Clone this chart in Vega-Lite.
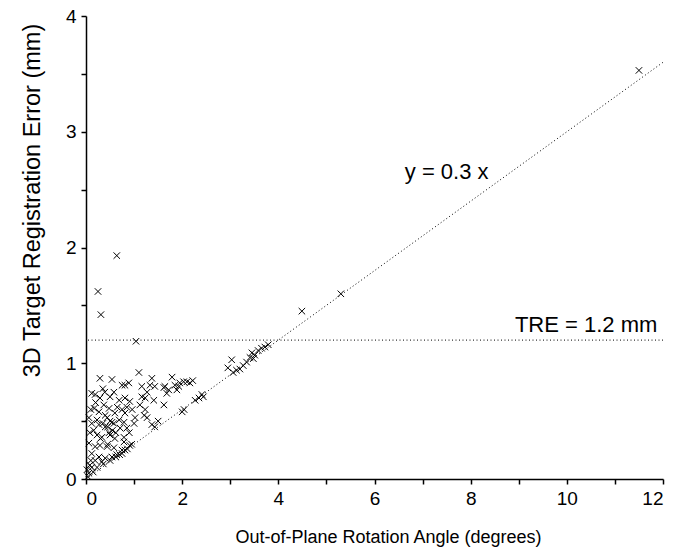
{
  "$schema": "https://vega.github.io/schema/vega-lite/v6.json",
  "autosize": "none",
  "padding": {"left": 86, "top": 16, "right": 27, "bottom": 72},
  "width": 577,
  "height": 463,
  "background": "white",
  "config": {
    "view": {"stroke": null},
    "font": "Liberation Sans",
    "axis": {
      "domainColor": "black", "domainWidth": 1.5, "tickColor": "black", "tickWidth": 1.5, "tickSize": 5,
      "labelColor": "black", "labelFontSize": 19, "titleFontWeight": "normal", "titleColor": "black", "grid": false
    }
  },
  "datasets": {
    "pts": [
      {"angle": 11.5, "tre": 3.53}, {"angle": 5.3, "tre": 1.6}, {"angle": 4.49, "tre": 1.45},
      {"angle": 0.64, "tre": 1.93}, {"angle": 0.25, "tre": 1.62}, {"angle": 0.31, "tre": 1.42}, {"angle": 1.04, "tre": 1.19},
      {"angle": 3.03, "tre": 1.03}, {"angle": 2.95, "tre": 0.96}, {"angle": 3.06, "tre": 0.92}, {"angle": 3.13, "tre": 0.94},
      {"angle": 3.2, "tre": 0.95}, {"angle": 3.27, "tre": 0.98}, {"angle": 3.34, "tre": 1.01}, {"angle": 3.41, "tre": 1.05},
      {"angle": 3.45, "tre": 1.09}, {"angle": 3.51, "tre": 1.07}, {"angle": 3.58, "tre": 1.11}, {"angle": 3.65, "tre": 1.13},
      {"angle": 3.72, "tre": 1.14}, {"angle": 3.79, "tre": 1.16}, {"angle": 3.48, "tre": 1.04}, {"angle": 2.44, "tre": 0.71},
      {"angle": 1.79, "tre": 0.88}, {"angle": 1.64, "tre": 0.8}, {"angle": 1.72, "tre": 0.77}, {"angle": 1.68, "tre": 0.74},
      {"angle": 1.85, "tre": 0.81}, {"angle": 1.95, "tre": 0.83}, {"angle": 2.03, "tre": 0.84}, {"angle": 2.1, "tre": 0.84},
      {"angle": 2.16, "tre": 0.83}, {"angle": 1.93, "tre": 0.8}, {"angle": 1.89, "tre": 0.77}, {"angle": 2.27, "tre": 0.68},
      {"angle": 2.35, "tre": 0.7}, {"angle": 2.41, "tre": 0.73}, {"angle": 2.04, "tre": 0.6}, {"angle": 2.0, "tre": 0.58},
      {"angle": 1.62, "tre": 0.64}, {"angle": 2.22, "tre": 0.85},
      {"angle": 1.1, "tre": 0.92}, {"angle": 1.37, "tre": 0.87}, {"angle": 1.43, "tre": 0.8}, {"angle": 1.62, "tre": 0.79},
      {"angle": 0.89, "tre": 0.83}, {"angle": 0.81, "tre": 0.81}, {"angle": 1.16, "tre": 0.8}, {"angle": 1.27, "tre": 0.75},
      {"angle": 1.16, "tre": 0.71}, {"angle": 1.23, "tre": 0.7}, {"angle": 1.41, "tre": 0.68}, {"angle": 0.81, "tre": 0.7},
      {"angle": 0.91, "tre": 0.67}, {"angle": 0.85, "tre": 0.62}, {"angle": 0.96, "tre": 0.6}, {"angle": 1.23, "tre": 0.6},
      {"angle": 1.21, "tre": 0.55}, {"angle": 1.27, "tre": 0.53}, {"angle": 1.02, "tre": 0.53}, {"angle": 0.81, "tre": 0.57},
      {"angle": 1.12, "tre": 0.64}, {"angle": 1.33, "tre": 0.81},
      {"angle": 0.85, "tre": 0.44}, {"angle": 0.9, "tre": 0.4}, {"angle": 0.79, "tre": 0.36}, {"angle": 0.91, "tre": 0.29},
      {"angle": 0.81, "tre": 0.25}, {"angle": 0.75, "tre": 0.22}, {"angle": 1.37, "tre": 0.47}, {"angle": 1.43, "tre": 0.45},
      {"angle": 1.0, "tre": 0.48}, {"angle": 0.79, "tre": 0.32},
      {"angle": 0.29, "tre": 0.87}, {"angle": 0.54, "tre": 0.86}, {"angle": 0.75, "tre": 0.81}, {"angle": 0.19, "tre": 0.73},
      {"angle": 0.12, "tre": 0.74}, {"angle": 0.29, "tre": 0.7}, {"angle": 0.39, "tre": 0.75}, {"angle": 0.5, "tre": 0.71},
      {"angle": 0.58, "tre": 0.75}, {"angle": 0.69, "tre": 0.68}, {"angle": 0.17, "tre": 0.61}, {"angle": 0.27, "tre": 0.58},
      {"angle": 0.37, "tre": 0.64}, {"angle": 0.48, "tre": 0.61}, {"angle": 0.6, "tre": 0.57}, {"angle": 0.75, "tre": 0.6},
      {"angle": 0.06, "tre": 0.53}, {"angle": 0.23, "tre": 0.51}, {"angle": 0.44, "tre": 0.53}, {"angle": 0.54, "tre": 0.49},
      {"angle": 0.69, "tre": 0.51}, {"angle": 0.79, "tre": 0.49},
      {"angle": 0.12, "tre": 0.48}, {"angle": 0.27, "tre": 0.47}, {"angle": 0.4, "tre": 0.45}, {"angle": 0.58, "tre": 0.48},
      {"angle": 0.71, "tre": 0.44}, {"angle": 0.08, "tre": 0.4}, {"angle": 0.23, "tre": 0.38}, {"angle": 0.33, "tre": 0.36},
      {"angle": 0.48, "tre": 0.4}, {"angle": 0.6, "tre": 0.35}, {"angle": 0.06, "tre": 0.31}, {"angle": 0.19, "tre": 0.28},
      {"angle": 0.29, "tre": 0.29}, {"angle": 0.44, "tre": 0.28}, {"angle": 0.58, "tre": 0.27}, {"angle": 0.75, "tre": 0.25},
      {"angle": 0.12, "tre": 0.22}, {"angle": 0.27, "tre": 0.19}, {"angle": 0.4, "tre": 0.18}, {"angle": 0.54, "tre": 0.19},
      {"angle": 0.64, "tre": 0.21}, {"angle": 0.19, "tre": 0.16}, {"angle": 0.33, "tre": 0.15}, {"angle": 0.08, "tre": 0.12},
      {"angle": 0.02, "tre": 0.08}, {"angle": 0.12, "tre": 0.1}, {"angle": 0.06, "tre": 0.05}, {"angle": 0.23, "tre": 0.1},
      {"angle": 0.45, "tre": 0.45}, {"angle": 0.5, "tre": 0.5}, {"angle": 0.4, "tre": 0.55}, {"angle": 0.55, "tre": 0.42},
      {"angle": 0.35, "tre": 0.48}, {"angle": 0.5, "tre": 0.38}, {"angle": 0.45, "tre": 0.3}, {"angle": 0.3, "tre": 0.35},
      {"angle": 0.5, "tre": 0.16}, {"angle": 0.62, "tre": 0.19}, {"angle": 0.7, "tre": 0.21}, {"angle": 0.86, "tre": 0.26},
      {"angle": 0.95, "tre": 0.3}, {"angle": 0.36, "tre": 0.13}, {"angle": 0.15, "tre": 0.06}, {"angle": 0.04, "tre": 0.02},
      {"angle": 0.1, "tre": 0.16}, {"angle": 0.16, "tre": 0.42}, {"angle": 0.2, "tre": 0.66}, {"angle": 0.35, "tre": 0.78},
      {"angle": 0.65, "tre": 0.62}, {"angle": 0.62, "tre": 0.4}, {"angle": 0.1, "tre": 0.6}, {"angle": 1.5, "tre": 0.5}
    ],
    "fit": [{"angle": 0, "tre": 0}, {"angle": 12, "tre": 3.6}],
    "ann": [
      {"angle": 6.63, "tre": 2.65, "label": "y = 0.3 x"},
      {"angle": 8.92, "tre": 1.33, "label": "TRE = 1.2 mm"}
    ]
  },
  "layer": [
    {
      "data": {"name": "fit"},
      "mark": {"type": "line", "color": "black", "strokeWidth": 1, "strokeDash": [1, 2.5], "clip": true},
      "encoding": {
        "x": {"field": "angle", "type": "quantitative", "scale": {"domain": [0, 12], "nice": false},
          "axis": {"title": "Out-of-Plane Rotation Angle (degrees)", "values": [0,1,2,3,4,5,6,7,8,9,10,11,12],
            "labelExpr": "datum.value % 2 == 0 ? datum.label : ''", "labelPadding": 5,
            "titleFontSize": 18, "titleX": 302, "titleY": 58, "titleBaseline": "middle", "titleAlign": "center"}},
        "y": {"field": "tre", "type": "quantitative", "scale": {"domain": [0, 4], "nice": false},
          "axis": {"title": "3D Target Registration Error (mm)", "values": [0,0.5,1,1.5,2,2.5,3,3.5,4], "format": ".1f",
            "labelExpr": "datum.value % 1 == 0 ? format(datum.value, 'd') : ''", "labelPadding": 5,
            "titleFontSize": 23.5, "titleX": -54, "titleY": 184, "titleBaseline": "middle", "titleAlign": "center", "titleAngle": 270}}
      }
    },
    {
      "data": {"values": [{"tre": 1.2}]},
      "mark": {"type": "rule", "color": "black", "strokeWidth": 1, "strokeDash": [1, 2.5]},
      "encoding": {"y": {"field": "tre", "type": "quantitative"}}
    },
    {
      "data": {"name": "pts"},
      "mark": {"type": "point", "shape": "M-1,-1L1,1M-1,1L1,-1", "size": 42, "filled": false, "stroke": "black", "strokeWidth": 1, "opacity": 1},
      "encoding": {
        "x": {"field": "angle", "type": "quantitative"},
        "y": {"field": "tre", "type": "quantitative"}
      }
    },
    {
      "data": {"name": "ann"},
      "mark": {"type": "text", "align": "left", "baseline": "middle", "fontSize": 22, "color": "black"},
      "encoding": {
        "x": {"field": "angle", "type": "quantitative"},
        "y": {"field": "tre", "type": "quantitative"},
        "text": {"field": "label"}
      }
    }
  ]
}
